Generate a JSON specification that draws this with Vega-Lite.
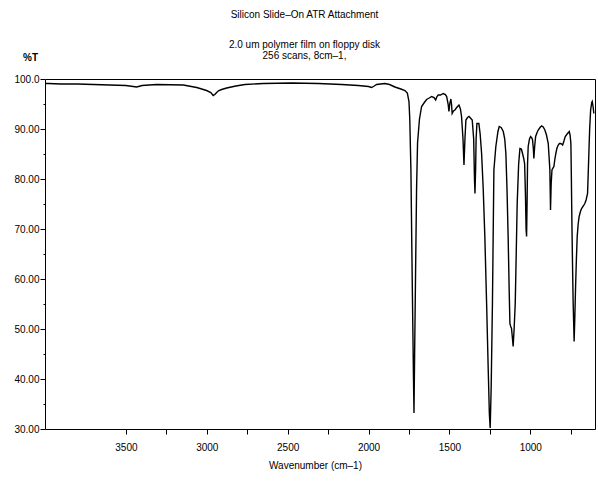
{
  "$schema": "https://vega.github.io/schema/vega-lite/v6.json",
  "width": 550,
  "height": 350,
  "autosize": {"type": "none"},
  "padding": {"left": 45, "top": 79, "right": 3, "bottom": 56},
  "background": "white",
  "title": {
    "text": "Silicon Slide–On ATR Attachment",
    "subtitle": ["2.0 um polymer film on floppy disk", "256 scans, 8cm–1,"],
    "anchor": "middle",
    "frame": "bounds",
    "font": "Liberation Sans",
    "fontSize": 10,
    "fontWeight": "normal",
    "color": "black",
    "subtitleFont": "Liberation Sans",
    "subtitleFontSize": 10,
    "subtitleColor": "black",
    "subtitleLineHeight": 11,
    "subtitlePadding": 20,
    "offset": -9
  },
  "config": {
    "view": {"stroke": "black", "strokeWidth": 1},
    "axis": {
      "domainColor": "black",
      "tickColor": "black",
      "labelColor": "black",
      "titleColor": "black",
      "labelFont": "Liberation Sans",
      "titleFont": "Liberation Sans",
      "labelFontSize": 10,
      "titleFontSize": 10,
      "titleFontWeight": "normal",
      "grid": false
    }
  },
  "data": {
    "values": [
      {"wn": 3995, "t": 99.1}, {"wn": 3980, "t": 99.1}, {"wn": 3900, "t": 99.0}, {"wn": 3800, "t": 99.0},
      {"wn": 3700, "t": 98.9}, {"wn": 3600, "t": 98.8}, {"wn": 3500, "t": 98.7}, {"wn": 3433, "t": 98.4},
      {"wn": 3400, "t": 98.7}, {"wn": 3310, "t": 98.9}, {"wn": 3145, "t": 98.8}, {"wn": 3062, "t": 98.3},
      {"wn": 3001, "t": 97.7}, {"wn": 2975, "t": 97.3}, {"wn": 2960, "t": 96.7}, {"wn": 2950, "t": 96.9},
      {"wn": 2939, "t": 97.3}, {"wn": 2925, "t": 97.7}, {"wn": 2908, "t": 97.9}, {"wn": 2877, "t": 98.2},
      {"wn": 2820, "t": 98.6}, {"wn": 2764, "t": 98.9}, {"wn": 2650, "t": 99.1}, {"wn": 2475, "t": 99.2},
      {"wn": 2311, "t": 99.1}, {"wn": 2166, "t": 98.9}, {"wn": 2064, "t": 98.7}, {"wn": 2000, "t": 98.5},
      {"wn": 1981, "t": 98.3}, {"wn": 1965, "t": 98.6}, {"wn": 1950, "t": 98.9}, {"wn": 1899, "t": 99.1},
      {"wn": 1870, "t": 98.9}, {"wn": 1837, "t": 98.4}, {"wn": 1800, "t": 98.0}, {"wn": 1775, "t": 97.7},
      {"wn": 1760, "t": 97.2}, {"wn": 1750, "t": 95.5}, {"wn": 1745, "t": 92}, {"wn": 1738, "t": 81.8},
      {"wn": 1730, "t": 60}, {"wn": 1722, "t": 40}, {"wn": 1719, "t": 33.2}, {"wn": 1715, "t": 45},
      {"wn": 1709, "t": 61.8}, {"wn": 1703, "t": 78}, {"wn": 1697, "t": 87.2}, {"wn": 1685, "t": 92},
      {"wn": 1672, "t": 94.5}, {"wn": 1655, "t": 95.3}, {"wn": 1641, "t": 95.9}, {"wn": 1625, "t": 96.2},
      {"wn": 1610, "t": 96.5}, {"wn": 1595, "t": 96.3}, {"wn": 1585, "t": 95.8}, {"wn": 1577, "t": 96.5},
      {"wn": 1569, "t": 96.8}, {"wn": 1555, "t": 96.8}, {"wn": 1538, "t": 97.1}, {"wn": 1525, "t": 96.9},
      {"wn": 1517, "t": 96.5}, {"wn": 1508, "t": 95}, {"wn": 1503, "t": 93.5}, {"wn": 1497, "t": 95.2},
      {"wn": 1491, "t": 96}, {"wn": 1487, "t": 95}, {"wn": 1483, "t": 93.1}, {"wn": 1475, "t": 93.6},
      {"wn": 1466, "t": 93.8}, {"wn": 1455, "t": 94.3}, {"wn": 1441, "t": 94.8}, {"wn": 1432, "t": 94},
      {"wn": 1425, "t": 92.5}, {"wn": 1416, "t": 88}, {"wn": 1410, "t": 82.8}, {"wn": 1404, "t": 88},
      {"wn": 1398, "t": 91.8}, {"wn": 1388, "t": 92.3}, {"wn": 1379, "t": 92.5}, {"wn": 1370, "t": 92.2},
      {"wn": 1359, "t": 91.8}, {"wn": 1350, "t": 88}, {"wn": 1345, "t": 80}, {"wn": 1342, "t": 77.1},
      {"wn": 1338, "t": 82}, {"wn": 1335, "t": 88}, {"wn": 1330, "t": 91.1}, {"wn": 1318, "t": 91.1},
      {"wn": 1310, "t": 89}, {"wn": 1301, "t": 85.1}, {"wn": 1291, "t": 78}, {"wn": 1281, "t": 68.5},
      {"wn": 1270, "t": 55}, {"wn": 1260, "t": 41.8}, {"wn": 1253, "t": 33}, {"wn": 1248, "t": 30.2},
      {"wn": 1242, "t": 38}, {"wn": 1234, "t": 55.2}, {"wn": 1225, "t": 81.8}, {"wn": 1213, "t": 86.5},
      {"wn": 1200, "t": 89.5}, {"wn": 1192, "t": 90.5}, {"wn": 1180, "t": 90.3}, {"wn": 1167, "t": 89.5},
      {"wn": 1158, "t": 88}, {"wn": 1151, "t": 85.1}, {"wn": 1144, "t": 78}, {"wn": 1137, "t": 68.5},
      {"wn": 1130, "t": 57}, {"wn": 1126, "t": 51.1}, {"wn": 1121, "t": 50.5}, {"wn": 1116, "t": 50.1},
      {"wn": 1110, "t": 48}, {"wn": 1106, "t": 46.5}, {"wn": 1100, "t": 50}, {"wn": 1093, "t": 55.2},
      {"wn": 1087, "t": 65}, {"wn": 1081, "t": 75.1}, {"wn": 1072, "t": 83}, {"wn": 1064, "t": 86.1},
      {"wn": 1055, "t": 86}, {"wn": 1048, "t": 85.1}, {"wn": 1040, "t": 84}, {"wn": 1035, "t": 83},
      {"wn": 1030, "t": 77}, {"wn": 1026, "t": 70}, {"wn": 1023, "t": 68.5}, {"wn": 1020, "t": 75},
      {"wn": 1017, "t": 83}, {"wn": 1013, "t": 86.5}, {"wn": 1005, "t": 88}, {"wn": 998, "t": 88.5},
      {"wn": 990, "t": 88.2}, {"wn": 986, "t": 87.8}, {"wn": 981, "t": 86}, {"wn": 978, "t": 84.1},
      {"wn": 973, "t": 86.5}, {"wn": 967, "t": 88.5}, {"wn": 958, "t": 89.3}, {"wn": 951, "t": 89.8},
      {"wn": 940, "t": 90.3}, {"wn": 930, "t": 90.6}, {"wn": 920, "t": 90.4}, {"wn": 910, "t": 89.8},
      {"wn": 900, "t": 88.8}, {"wn": 889, "t": 87.1}, {"wn": 884, "t": 84.5}, {"wn": 879, "t": 81.8},
      {"wn": 875, "t": 73.8}, {"wn": 871, "t": 79}, {"wn": 866, "t": 81.8}, {"wn": 860, "t": 82.2},
      {"wn": 854, "t": 82.5}, {"wn": 848, "t": 84}, {"wn": 842, "t": 85.1}, {"wn": 835, "t": 86.2},
      {"wn": 827, "t": 86.8}, {"wn": 820, "t": 87.1}, {"wn": 813, "t": 87.1}, {"wn": 806, "t": 87},
      {"wn": 800, "t": 86.8}, {"wn": 792, "t": 87.6}, {"wn": 784, "t": 88.5}, {"wn": 770, "t": 89.1},
      {"wn": 759, "t": 89.5}, {"wn": 754, "t": 88.8}, {"wn": 749, "t": 87.1}, {"wn": 746, "t": 80},
      {"wn": 743, "t": 71.8}, {"wn": 739, "t": 63}, {"wn": 735, "t": 55.2}, {"wn": 729, "t": 47.5},
      {"wn": 725, "t": 52}, {"wn": 720, "t": 58.5}, {"wn": 715, "t": 64}, {"wn": 710, "t": 68.5},
      {"wn": 704, "t": 71}, {"wn": 698, "t": 72.5}, {"wn": 690, "t": 73.5}, {"wn": 683, "t": 74.1},
      {"wn": 670, "t": 74.7}, {"wn": 663, "t": 75.1}, {"wn": 655, "t": 75.8}, {"wn": 646, "t": 77.1},
      {"wn": 642, "t": 81}, {"wn": 638, "t": 85.1}, {"wn": 633, "t": 90}, {"wn": 627, "t": 93.8},
      {"wn": 620, "t": 95.3}, {"wn": 617, "t": 95.5}, {"wn": 612, "t": 94.5}, {"wn": 607, "t": 93.1}
    ]
  },
  "mark": {"type": "line", "color": "black", "strokeWidth": 1.4, "clip": true},
  "encoding": {
    "x": {
      "field": "wn",
      "type": "quantitative",
      "scale": {"domain": [4000, 600], "nice": false, "zero": false},
      "axis": {
        "title": "Wavenumber (cm–1)",
        "titleX": 270,
        "values": [3500, 3250, 3000, 2750, 2500, 2250, 2000, 1750, 1500, 1250, 1000, 750],
        "labelExpr": "datum.value % 500 == 0 ? datum.value : ''",
        "tickSize": 5,
        "labelPadding": 8,
        "titlePadding": 8,
        "domain": false
      }
    },
    "y": {
      "field": "t",
      "type": "quantitative",
      "scale": {"domain": [30, 100], "nice": false, "zero": false},
      "axis": {
        "title": "%T",
        "titleAngle": 0,
        "titleX": -15,
        "titleY": -22,
        "titleAlign": "center",
        "titleBaseline": "middle",
        "titleFontWeight": "bold",
        "values": [30, 35, 40, 45, 50, 55, 60, 65, 70, 75, 80, 85, 90, 95, 100],
        "labelExpr": "datum.value % 10 != 0 ? '' : (datum.value == 100 ? '100.0' : format(datum.value, '.2f'))",
        "tickSize": {"expr": "datum.value % 10 == 0 ? 5 : 2"},
        "labelPadding": 1,
        "domain": false
      }
    }
  }
}
